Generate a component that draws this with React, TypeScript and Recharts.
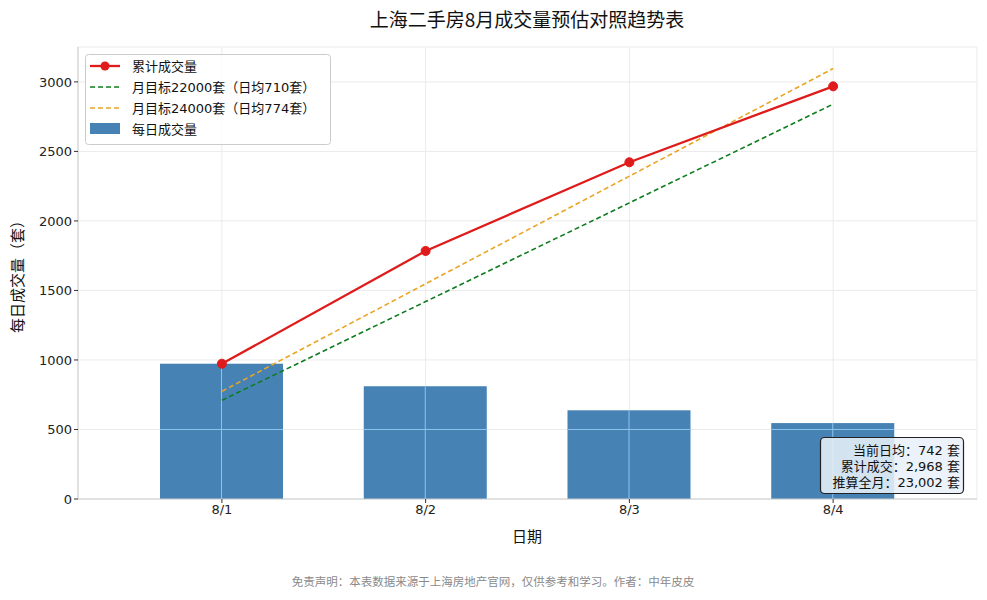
import React from 'react';
import { ComposedChart, Bar, Line, XAxis, YAxis, CartesianGrid } from 'recharts';

const dates = ['8/1', '8/2', '8/3', '8/4'];
const dailyVolume = [973, 811, 638, 546];
const cumulativeVolume = [973, 1784, 2422, 2968];
const target22000 = [710, 1420, 2130, 2840];
const target24000 = [774, 1548, 2322, 3096];
const yTicks = [0, 500, 1000, 1500, 2000, 2500, 3000];

const legendItems = ['累计成交量', '月目标22000套（日均710套）', '月目标24000套（日均774套）', '每日成交量'];
const infoLines = ['当前日均：742 套', '累计成交：2,968 套', '推算全月：23,002 套'];
const title = '上海二手房8月成交量预估对照趋势表';
const xLabel = '日期';
const yLabel = '每日成交量（套）';
const footer = '免责声明：本表数据来源于上海房地产官网，仅供参考和学习。作者：中年皮皮';

const data = dates.map((d, i) => ({
  date: d,
  daily: dailyVolume[i],
  cum: cumulativeVolume[i],
  t22: target22000[i],
  t24: target24000[i],
}));

const FONT = '"DejaVu Sans", "Noto Sans CJK SC", sans-serif';
const RED = '#e01b1b';
const GREEN = '#107c20';
const ORANGE = '#e9a526';
const BLUE = '#4682b4';
const GRID_ON_BAR = '#8ec3ee';

// Bar with the grid showing through it (grid is drawn above bars in the reference)
const GridBar = (props: any) => {
  const { x, y, width, height, value } = props;
  const v = Array.isArray(value) ? value[1] - value[0] : value;
  const bottom = y + height;
  const per = v ? height / v : 0;
  const cx = x + width / 2;
  return (
    <g>
      <rect x={x} y={y} width={width} height={height} fill={BLUE} />
      {yTicks.filter((t) => t > 0 && t < v).map((t) => (
        <line key={t} x1={x} x2={x + width} y1={bottom - t * per} y2={bottom - t * per} stroke={GRID_ON_BAR} strokeWidth={1} />
      ))}
      <line x1={cx} x2={cx} y1={y} y2={bottom} stroke={GRID_ON_BAR} strokeWidth={1} />
    </g>
  );
};

export default function App() {
  return (
    <div style={{ position: 'fixed', left: 0, top: 0, width: 987, height: 600, background: '#fff', fontFamily: FONT }}>
      <ComposedChart
        width={987}
        height={600}
        data={data}
        margin={{ top: 47, right: 10, bottom: 71, left: 20 }}
      >
        <CartesianGrid stroke="#ebebeb" strokeWidth={1} />
        <XAxis
          dataKey="date"
          padding={{ left: 42, right: 42 }}
          height={30}
          axisLine={{ stroke: '#cccccc' }}
          tickLine={{ stroke: '#333' }}
          tickSize={4}
          tick={{ fill: '#222', fontSize: 13, fontFamily: FONT }}
          interval={0}
        />
        <YAxis
          width={58}
          domain={[0, 3251]}
          ticks={yTicks}
          allowDataOverflow
          axisLine={{ stroke: '#cccccc' }}
          tickLine={{ stroke: '#333' }}
          tickSize={4}
          tick={{ fill: '#222', fontSize: 13, fontFamily: FONT }}
        />
        <Bar dataKey="daily" fill={BLUE} barSize={123} shape={GridBar} isAnimationActive={false} />
        <Line dataKey="t22" stroke={GREEN} strokeWidth={1.6} strokeDasharray="5 3" dot={false} isAnimationActive={false} />
        <Line dataKey="t24" stroke={ORANGE} strokeWidth={1.6} strokeDasharray="5 3" dot={false} isAnimationActive={false} />
        <Line
          dataKey="cum"
          stroke={RED}
          strokeWidth={2.3}
          dot={{ r: 4.5, fill: RED, stroke: RED, strokeWidth: 1 }}
          isAnimationActive={false}
        />
      </ComposedChart>

      <svg width={987} height={600} style={{ position: 'absolute', left: 0, top: 0, pointerEvents: 'none' }}>
        <text x={527} y={27} textAnchor="middle" fontSize={19} fill="#111" fontFamily='"Noto Sans CJK SC", sans-serif'>{title}</text>
        <text x={527} y={542} textAnchor="middle" fontSize={15} fill="#111" fontFamily={FONT}>{xLabel}</text>
        <text x={23} y={273} textAnchor="middle" fontSize={15} fill="#111" fontFamily={FONT} transform="rotate(-90 23 273)">{yLabel}</text>
        <text x={493} y={586} textAnchor="middle" fontSize={11.5} fill="#8a8a8a" fontFamily='"Noto Sans CJK SC", sans-serif'>{footer}</text>

        {/* legend */}
        <rect x={85.5} y={54.5} width={245} height={90} rx={3} fill="#ffffff" fillOpacity={0.85} stroke="#cccccc" />
        <line x1={90} y1={66} x2={120} y2={66} stroke={RED} strokeWidth={2.3} />
        <circle cx={105} cy={66} r={4.5} fill={RED} />
        <line x1={90} y1={87} x2={120} y2={87} stroke={GREEN} strokeWidth={1.6} strokeDasharray="5 3" />
        <line x1={90} y1={108} x2={120} y2={108} stroke={ORANGE} strokeWidth={1.6} strokeDasharray="5 3" />
        <rect x={90} y={123} width={30} height={11} fill={BLUE} />
        {legendItems.map((t, i) => (
          <text key={t} x={132} y={71 + i * 21} fontSize={13} fill="#111" fontFamily={FONT}>{t}</text>
        ))}

        {/* info box */}
        <rect x={820.5} y={437.5} width={143} height={56} rx={4} fill="#e8f0f8" fillOpacity={0.88} stroke="#222" strokeWidth={1.2} />
        {infoLines.map((t, i) => (
          <text key={t} x={960} y={455 + i * 16} textAnchor="end" fontSize={13} fill="#111" fontFamily={FONT}>{t}</text>
        ))}
      </svg>
    </div>
  );
}
